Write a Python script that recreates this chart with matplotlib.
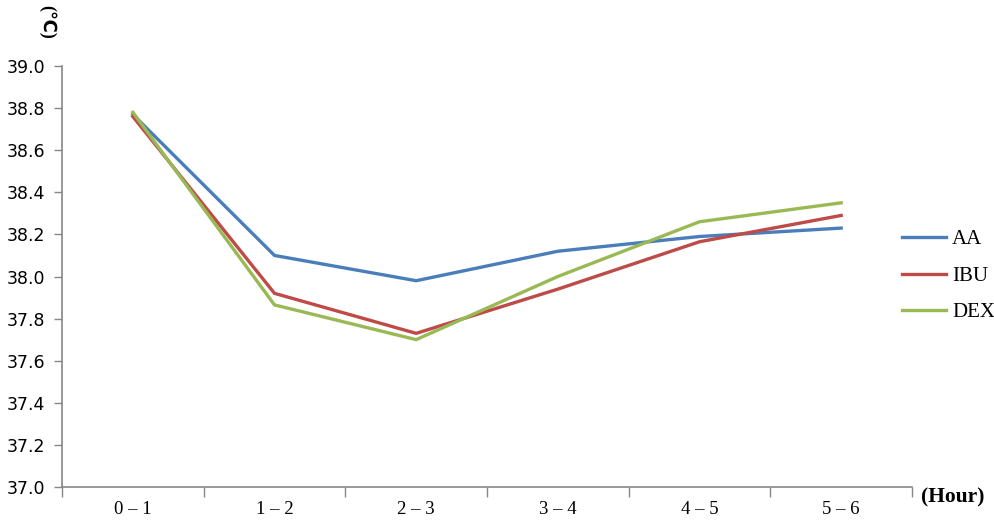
import numpy as np
import matplotlib
matplotlib.use("Agg")
import matplotlib.pyplot as plt

categories = ["0 – 1", "1 – 2", "2 – 3", "3 – 4", "4 – 5", "5 – 6"]
aa = [38.77, 38.10, 37.98, 38.12, 38.19, 38.23]
ibu = [38.76, 37.92, 37.73, 37.94, 38.165, 38.29]
dex = [38.78, 37.865, 37.70, 38.00, 38.26, 38.35]
series_names = ["AA", "IBU", "DEX"]
colors = ["#4a7ebb", "#be4b48", "#98b954"]
yticks = [37.0, 37.2, 37.4, 37.6, 37.8, 38.0, 38.2, 38.4, 38.6, 38.8, 39.0]

fig = plt.figure(figsize=(9.95, 5.21), dpi=100)
ax = fig.add_axes([62/995, 34/521, 850/995, 421/521])

x = np.arange(len(categories)) + 0.5
for vals, name, c in zip([aa, ibu, dex], series_names, colors):
    ax.plot(x, vals, color=c, lw=2.4, label=name, solid_joinstyle="miter")

ax.set_xlim(0, len(categories))
ax.set_ylim(37.0, 39.0)
ax.set_yticks(yticks)
ax.set_yticklabels([f"{v:.1f}" for v in yticks], fontsize=12.5, family="DejaVu Sans")
ax.set_xticks(np.arange(len(categories) + 1))
ax.set_xticklabels([])
ax.set_xticks(x, minor=True)
ax.set_xticklabels(categories, minor=True, fontsize=13.5, family="Liberation Serif")
ax.tick_params(axis="x", which="minor", length=0, pad=10)
ax.tick_params(axis="x", which="major", length=7, color="#878787", width=1)
ax.tick_params(axis="y", length=6, color="#878787", width=1, pad=6)

for s in ["top", "right"]:
    ax.spines[s].set_visible(False)
for s in ["left", "bottom"]:
    ax.spines[s].set_color("#878787")
    ax.spines[s].set_linewidth(1.2)

fig.text(47/995, 1 - 22/521, "(℃)", rotation=-90, ha="center", va="center",
         fontsize=13, fontweight="bold", family=["Liberation Serif", "DejaVu Sans"])
fig.text(921/995, 1 - 497/521, "(Hour)", ha="left", va="center",
         fontsize=15.5, fontweight="bold", family="Liberation Serif")

leg = fig.legend(loc="center left", bbox_to_anchor=(902/995, 1 - 276/521),
                 frameon=False, prop={"family": "Liberation Serif", "size": 15},
                 handlelength=2.1, handletextpad=0.3, labelspacing=0.82,
                 borderaxespad=0, borderpad=0)

fig.savefig("out.png", dpi=100)
